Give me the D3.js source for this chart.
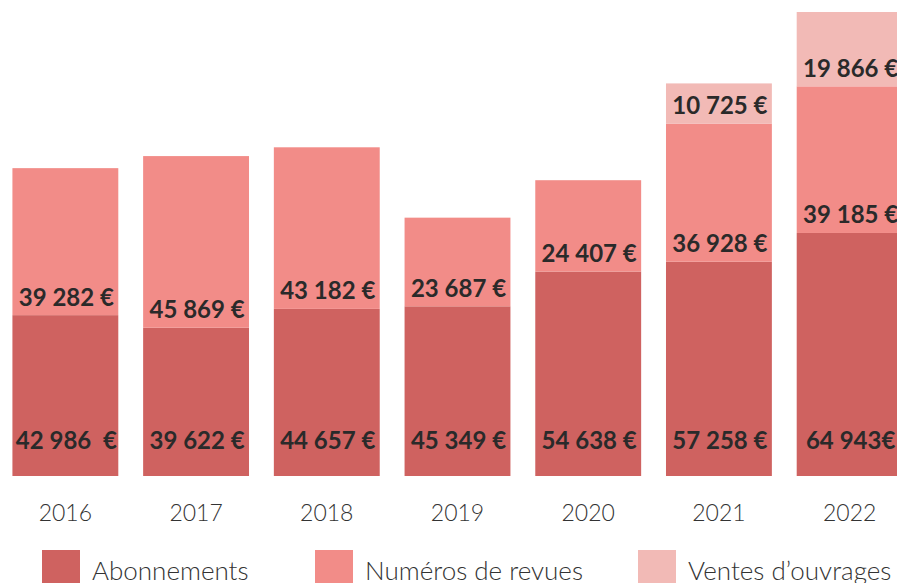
<!DOCTYPE html>
<html><head><meta charset="utf-8">
<script src="https://cdn.jsdelivr.net/npm/d3@7"></script>
<style>
html,body{margin:0;padding:0;background:#fff;}
svg{display:block;}
</style></head>
<body>
<svg id="c" width="897" height="583"></svg>
<script>
const years = ["2016","2017","2018","2019","2020","2021","2022"];
const abonnements = [42986, 39622, 44657, 45349, 54638, 57258, 64943];
const numeros = [39282, 45869, 43182, 23687, 24407, 36928, 39185];
const ventes = [0, 0, 0, 0, 0, 10725, 19866];
const seriesNames = ["Abonnements", "Numéros de revues", "Ventes d’ouvrages"];
const colors = ["#cf6260", "#f28c88", "#f2bab6"];
const labelsAbo = ["42 986  €","39 622 €","44 657 €","45 349 €","54 638 €","57 258 €","64 943€"];
const labelsNum = ["39 282 €","45 869 €","43 182 €","23 687 €","24 407 €","36 928 €","39 185 €"];
const labelsVen = ["","","","","","10 725 €","19 866 €"];

const svg = d3.select("#c");
const rows = years.map((y,i)=>({year:y, a:abonnements[i], n:numeros[i], v:ventes[i]}));
const stack = d3.stack().keys(["a","n","v"])(rows);
const x = d3.scaleBand().domain(years).range([0, 915]).paddingInner(0.19).paddingOuter(0.095);
const y = d3.scaleLinear().domain([0, 123994]).range([476, 12]);
const labels = [labelsAbo, labelsNum, labelsVen];

stack.forEach((s, si) => {
  svg.append("g").selectAll("rect").data(s).join("rect")
    .attr("x", d => x(d.data.year))
    .attr("width", x.bandwidth())
    .attr("y", d => y(d[1]))
    .attr("height", d => y(d[0]) - y(d[1]))
    .attr("fill", colors[si]);
});
stack.forEach((s, si) => {
  svg.append("g").selectAll("text").data(s.filter((d,i)=>labels[si][i])).join("text")
    .attr("x", d => x(d.data.year) + x.bandwidth()/2 + 1)
    .attr("y", d => si === 0 ? y(d[0]) - 35 : y(d[0]) - 18)
    .attr("dy", "0.35em")
    .attr("text-anchor", "middle")
    .attr("font-family", "Lato, sans-serif")
    .attr("font-weight", 700)
    .attr("font-size", 24)
    .attr("fill", "#2a2a2a")
    .style("white-space", "pre")
    .text(d => labels[si][years.indexOf(d.data.year)]);
});

svg.append("g").selectAll("text").data(years).join("text")
  .attr("x", d => x(d) + x.bandwidth()/2)
  .attr("y", 513).attr("dy","0.35em")
  .attr("text-anchor","middle")
  .attr("font-family","Lato, sans-serif").attr("font-weight",300)
  .attr("font-size",23).attr("fill","#333")
  .text(d=>d);

const legX = [42, 315, 638];
const lg = svg.append("g").selectAll("g").data(seriesNames).join("g")
  .attr("transform",(d,i)=>`translate(${legX[i]},550)`);
lg.append("rect").attr("width",38).attr("height",38).attr("fill",(d,i)=>colors[i]);
lg.append("text").attr("x",50).attr("y",30)
  .attr("font-family","Lato, sans-serif").attr("font-weight",300)
  .attr("font-size",26).attr("fill","#333").text(d=>d);
</script>
</body></html>
